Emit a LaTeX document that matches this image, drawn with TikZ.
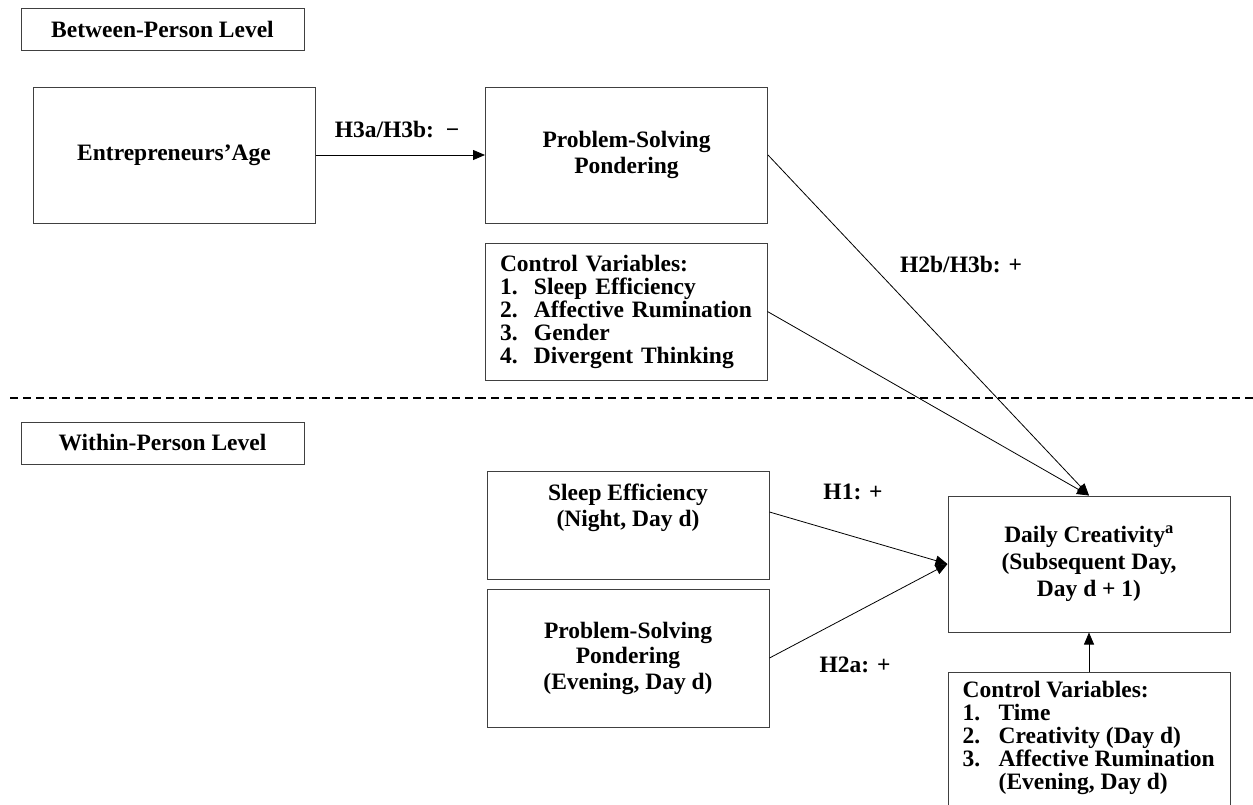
\documentclass[tikz,border=0pt]{standalone}
\usepackage{fontspec}
\setmainfont{Liberation Serif}
\usetikzlibrary{arrows.meta}
\begin{document}
\begin{tikzpicture}[x=1pt,y=-1pt,
  every node/.style={font=\fontsize{23.5}{25.5}\selectfont\bfseries},
  box/.style={draw=black!75, line width=1pt, align=center, inner sep=0pt},
  lvl/.style={box, minimum width=283pt, minimum height=42pt},
  big/.style={box, minimum width=282pt},
  ctrl/.style={draw=black!75, line width=1pt, align=left, text width=252pt, inner xsep=15pt, inner ysep=0pt},
  conn/.style={line width=0.8pt, -{Triangle[length=12pt,width=10pt]}},
  lab/.style={inner sep=0pt}]
\clip (0,0) rectangle (1253,804);
\useasboundingbox (0,0) rectangle (1253,804);
\fill[white] (0,0) rectangle (1253,804);

\node[lvl] (bpl) at (162.5,29) {Between-Person Level};
\node[lvl] (wpl) at (162.5,443) {Within-Person Level};

\node[big, minimum height=136pt] (age) at (174,155) {Entrepreneurs’Age};
\node[big, minimum height=136pt] (psp) at (626.5,155) {Problem-Solving\\Pondering};
\node[ctrl, minimum height=137pt, font=\fontsize{23.5}{23}\selectfont\bfseries] (cv1) at (626,311.5) {Control Variables:\\
\makebox[34pt][l]{1.}Sleep Efficiency\\
\makebox[34pt][l]{2.}Affective Rumination\\
\makebox[34pt][l]{3.}Gender\\
\makebox[34pt][l]{4.}Divergent Thinking};

\draw[line width=1.2pt, dash pattern=on 8pt off 5pt] (10,398) -- (1253,398);

\node[big, minimum height=108pt] (se) at (628,525) {Sleep Efficiency\\(Night, Day d)\\[14pt]};
\node[big, minimum height=138pt] (pspe) at (628,658) {Problem-Solving\\Pondering\\(Evening, Day d)};
\node[big, minimum height=136pt, font=\fontsize{23.5}{27}\selectfont\bfseries] (dc) at (1089,564) {Daily Creativity\textsuperscript{a}\\(Subsequent Day,\\Day d + 1)};

\node[draw=black!75, line width=1pt, minimum width=282pt, minimum height=160pt, anchor=north, inner sep=0pt] (cv2) at (1089,672) {};
\node[anchor=north west, align=left, inner sep=0pt, font=\fontsize{23.5}{23}\selectfont\bfseries] (cv2t) at ([xshift=15pt,yshift=-9pt]cv2.north west) {Control Variables:\\
\makebox[36pt][l]{1.}Time\\
\makebox[36pt][l]{2.}Creativity (Day d)\\
\makebox[36pt][l]{3.}Affective Rumination\\
\makebox[36pt][l]{}(Evening, Day d)};

\draw[conn] (age.east) -- (psp.west);
\draw[conn] (psp.east) -- (dc.north);
\draw[conn] (cv1.east) -- (dc.north);
\draw[conn] ([yshift=13pt]se.east) -- (dc.west);
\draw[conn] (pspe.east) -- (dc.west);
\draw[conn] (cv2.north) -- (dc.south);

\node[lab] (l1) at (397,130) {H3a/H3b:\ \ −};
\node[lab] (l2) at (961,265) {H2b/H3b: +};
\node[lab] (l3) at (853,492) {H1: +};
\node[lab] (l4) at (855,665) {H2a: +};
\end{tikzpicture}
\end{document}
